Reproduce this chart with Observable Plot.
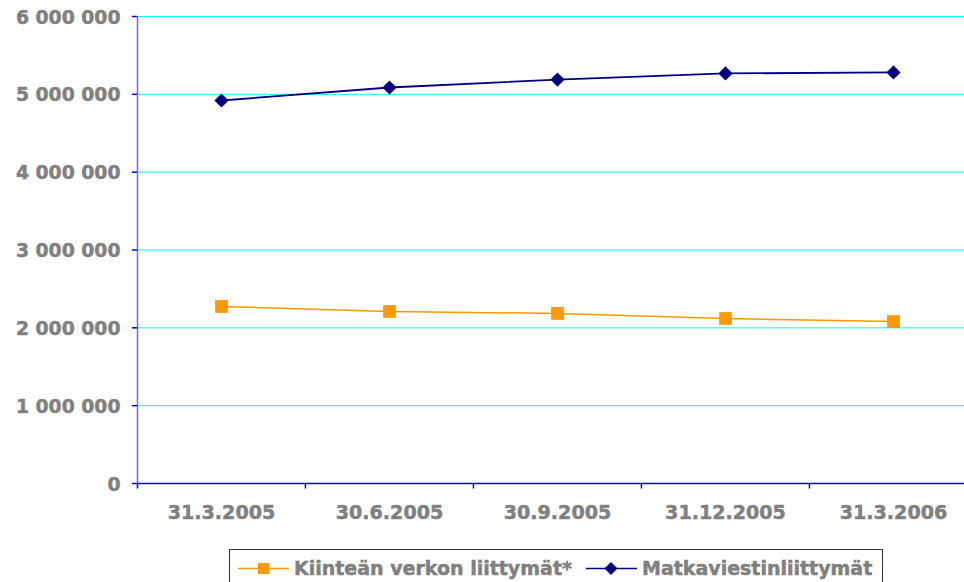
<!DOCTYPE html>
<html><head><meta charset="utf-8">
<script src="https://cdn.jsdelivr.net/npm/d3@7"></script>
<script src="https://cdn.jsdelivr.net/npm/@observablehq/plot@0.6"></script>
<style>
html,body{margin:0;padding:0;background:#fff;overflow:hidden;}
#wrap{position:relative;width:964px;height:582px;}
#legend{position:absolute;left:229px;top:549px;width:654px;height:40px;border:1px solid #303030;box-sizing:border-box;
 font-family:"DejaVu Sans",Verdana,sans-serif;font-weight:bold;font-size:19px;color:#808080;}
#legend .it{position:absolute;top:6px;height:24px;display:flex;align-items:center;white-space:nowrap;}
#legend svg{display:block;}
#legend span{-webkit-text-stroke:0.5px #808080;}
</style></head>
<body><div id="wrap"><div id="chart"></div><div id="legend"></div></div>
<script>
const categories = ["31.3.2005","30.6.2005","30.9.2005","31.12.2005","31.3.2006"];
const seriesNames = ["Kiinteän verkon liittymät*","Matkaviestinliittymät"];
const fixedLine = [2274000, 2210000, 2185000, 2120000, 2080000];
const mobile = [4921000, 5088000, 5190000, 5268000, 5282000];
const yTicks = [0,1000000,2000000,3000000,4000000,5000000,6000000];
const colors = ["#ff9900","#000080"];

const rows = [];
categories.forEach((c,i)=>{
  rows.push({s:seriesNames[0], i:i+0.5, v:fixedLine[i]});
  rows.push({s:seriesNames[1], i:i+0.5, v:mobile[i]});
});
const fmt = v => d3.format(",")(v).replace(/,/g," ");
const font = '"DejaVu Sans", Verdana, sans-serif';

const chart = Plot.plot({
  width:964, height:540,
  marginLeft:137, marginRight:-13, marginTop:16, marginBottom:57,
  style:{fontFamily:font, background:"#fff", overflow:"hidden"},
  x:{type:"linear", domain:[0,categories.length], axis:null},
  y:{type:"linear", domain:[0,6000000], axis:null},
  marks:[
    Plot.ruleY(yTicks.filter(d=>d>0), {y:d=>d, stroke:"#00ffff", strokeWidth:1}),
    Plot.ruleX([0], {x:d=>d, stroke:"#6a6aff", strokeWidth:1.5}),
    Plot.ruleY([0], {y:d=>d, stroke:"#0000e0", strokeWidth:1.5}),
    Plot.ruleY(yTicks, {y:d=>d, x1:-0.03, x2:0, stroke:"#0000e0", strokeWidth:1.5}),
    Plot.ruleX(d3.range(categories.length+1), {x:d=>d, y1:-70000, y2:0, stroke:"#0000e0", strokeWidth:1.5}),
    Plot.text(yTicks, {x:0, y:d=>d, text:d=>fmt(d), textAnchor:"end", dx:-17, dy:1, fill:"#808080", stroke:"#808080", strokeWidth:0.5, fontWeight:"bold", fontSize:18.8}),
    Plot.text(categories, {x:(d,i)=>i+0.5, y:0, text:d=>d, dy:29, fill:"#808080", stroke:"#808080", strokeWidth:0.5, fontWeight:"bold", fontSize:19.1}),
    Plot.line(rows.filter(r=>r.s===seriesNames[0]), {x:"i", y:"v", stroke:colors[0], strokeWidth:1.5}),
    Plot.line(rows.filter(r=>r.s===seriesNames[1]), {x:"i", y:"v", stroke:colors[1], strokeWidth:1.8}),
    Plot.dot(rows.filter(r=>r.s===seriesNames[0]), {x:"i", y:"v", symbol:"square", r:7.2, fill:colors[0], stroke:"none"}),
    Plot.dot(rows.filter(r=>r.s===seriesNames[1]), {x:"i", y:"v", symbol:"diamond2", r:6.4, fill:colors[1], stroke:"none"})
  ]
});
document.getElementById("chart").append(chart);

// legend
const leg = document.getElementById("legend");
const lefts = [8, 356];
seriesNames.forEach((n,k)=>{
  const it = document.createElement("div"); it.className="it";
  it.style.left = lefts[k] + "px";
  const ns="http://www.w3.org/2000/svg";
  const s=document.createElementNS(ns,"svg"); s.setAttribute("width","51"); s.setAttribute("height","24");
  const l=document.createElementNS(ns,"line");
  l.setAttribute("x1",0);l.setAttribute("x2",51);l.setAttribute("y1",12.5);l.setAttribute("y2",12.5);
  l.setAttribute("stroke",colors[k]);l.setAttribute("stroke-width",1.5); s.append(l);
  const p=document.createElementNS(ns,"path");
  p.setAttribute("d", k===0 ? "M20,7h11v11h-11z" : "M25,6l6.5,6.5l-6.5,6.5l-6.5,-6.5z");
  p.setAttribute("fill",colors[k]); s.append(p);
  const t=document.createElement("span"); t.textContent=n; t.style.marginLeft="5px";
  it.append(s,t); leg.append(it);
});
</script></body></html>
